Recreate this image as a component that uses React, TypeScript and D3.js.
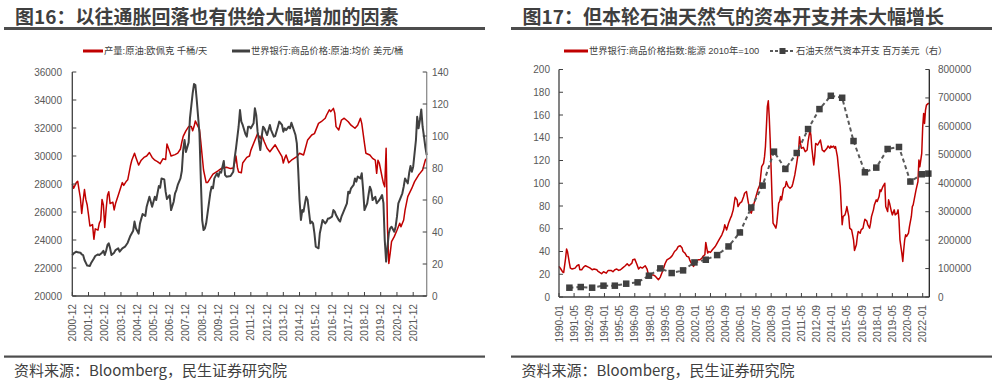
import React from 'react';
import * as d3 from 'd3';

const W = 996;
const H = 383;
const NUM_FONT = '"Liberation Sans", "Noto Sans CJK SC", sans-serif';
const CJK_FONT = '"Noto Sans CJK SC", sans-serif';
const TEXT = '#404040';
const TICK_TEXT = '#595959';
const RED = '#C00000';
const DARK = '#404040';
const LEGEND_SIZE = 9.3;

// ---------- Figure 16 ----------
const leftTitle = '图16：以往通胀回落也有供给大幅增加的因素';
const leftLegend = ['产量:原油:欧佩克 千桶/天', '世界银行:商品价格:原油:均价 美元/桶'];
const leftXTicks = ['2000-12', '2001-12', '2002-12', '2003-12', '2004-12', '2005-12', '2006-12', '2007-12', '2008-12', '2009-12', '2010-12', '2011-12', '2012-12', '2013-12', '2014-12', '2015-12', '2016-12', '2017-12', '2018-12', '2019-12', '2020-12', '2021-12'];
const leftYTicks = [20000, 22000, 24000, 26000, 28000, 30000, 32000, 34000, 36000];
const leftY2Ticks = [0, 20, 40, 60, 80, 100, 120, 140];

// OPEC crude production, thousand barrels/day (left axis)
const opecProduction: [string, number][] = [
  ['2000-12', 28000], ['2001-01', 27700], ['2001-03', 28100], ['2001-04', 28200], ['2001-05', 27600], ['2001-06', 27000],
  ['2001-07', 25900], ['2001-08', 26800], ['2001-09', 27600], ['2001-10', 26900], ['2001-11', 26500], ['2001-12', 25800],
  ['2002-01', 25000], ['2002-03', 25100], ['2002-04', 24050], ['2002-05', 24800], ['2002-07', 24700], ['2002-08', 25200],
  ['2002-09', 25400], ['2002-10', 26900], ['2002-11', 26500], ['2002-12', 24900], ['2003-01', 26200], ['2003-02', 27200],
  ['2003-03', 27450], ['2003-04', 26600], ['2003-06', 26700], ['2003-07', 26150], ['2003-08', 26600], ['2003-10', 27200],
  ['2003-12', 27800], ['2004-01', 28100], ['2004-02', 27900], ['2004-04', 28200], ['2004-05', 28300], ['2004-07', 29300],
  ['2004-08', 29700], ['2004-10', 30200], ['2004-11', 29900], ['2005-01', 29350], ['2005-03', 29700], ['2005-05', 29900],
  ['2005-07', 30000], ['2005-09', 30250], ['2005-11', 29900], ['2006-01', 29700], ['2006-03', 29600], ['2006-05', 29450],
  ['2006-07', 29800], ['2006-09', 29750], ['2006-10', 30850], ['2006-12', 30300], ['2007-01', 30000], ['2007-04', 30100],
  ['2007-06', 30200], ['2007-08', 30500], ['2007-09', 31000], ['2007-10', 31400], ['2007-12', 31800], ['2008-02', 32100],
  ['2008-04', 32100], ['2008-05', 31800], ['2008-06', 32100], ['2008-07', 32500], ['2008-08', 32300], ['2008-10', 31900],
  ['2008-11', 31000], ['2008-12', 30000], ['2009-01', 29000], ['2009-03', 28100], ['2009-04', 28100], ['2009-06', 28400],
  ['2009-08', 28700], ['2009-12', 28950], ['2010-02', 29100], ['2010-06', 29200], ['2010-09', 29100], ['2010-11', 29150],
  ['2010-12', 29500], ['2011-01', 30000], ['2011-02', 29200], ['2011-03', 28850], ['2011-05', 28800], ['2011-06', 29500],
  ['2011-09', 29900], ['2011-11', 30000], ['2011-12', 30400], ['2012-05', 31600], ['2012-07', 31250], ['2012-08', 31500],
  ['2012-10', 31000], ['2012-12', 30550], ['2013-02', 30300], ['2013-04', 30550], ['2013-06', 30800], ['2013-08', 30450],
  ['2013-11', 29950], ['2013-12', 29500], ['2014-01', 29830], ['2014-02', 30070], ['2014-04', 29520], ['2014-06', 29700],
  ['2014-10', 29950], ['2014-12', 30200], ['2015-03', 30070], ['2015-04', 30430], ['2015-06', 31150], ['2015-09', 31500],
  ['2015-11', 31600], ['2016-02', 32330], ['2016-04', 32450], ['2016-07', 32700], ['2016-08', 32930], ['2016-10', 33300],
  ['2016-11', 33170], ['2017-01', 33400], ['2017-02', 33050], ['2017-03', 32100], ['2017-05', 31860], ['2017-07', 32570],
  ['2017-09', 32700], ['2017-12', 32450], ['2018-02', 32200], ['2018-05', 31980], ['2018-07', 32200], ['2018-09', 32700],
  ['2018-10', 32330], ['2018-12', 30900], ['2019-01', 30200], ['2019-04', 30070], ['2019-06', 29830], ['2019-08', 29700],
  ['2019-09', 28760], ['2019-10', 29700], ['2019-11', 29480], ['2019-12', 29000], ['2020-01', 28500], ['2020-02', 28050],
  ['2020-03', 27800], ['2020-04', 30550], ['2020-05', 24950], ['2020-06', 22330], ['2020-07', 23050], ['2020-08', 23880],
  ['2020-10', 24240], ['2020-12', 24700], ['2021-02', 25200], ['2021-03', 24950], ['2021-05', 25430], ['2021-06', 26140],
  ['2021-08', 27100], ['2021-11', 27700], ['2022-01', 28170], ['2022-04', 28640], ['2022-05', 28760], ['2022-07', 29000],
  ['2022-09', 29710], ['2022-10', 29830],
];

// World Bank crude oil average price, USD/bbl (right axis)
const oilPrice: [string, number][] = [
  ['2000-12', 25.6], ['2001-01', 26.7], ['2001-03', 27.7], ['2001-04', 27.3], ['2001-06', 27.1], ['2001-07', 26],
  ['2001-08', 25.6], ['2001-09', 22.5], ['2001-11', 19], ['2002-01', 18.8], ['2002-02', 20.8], ['2002-04', 23.5],
  ['2002-05', 25], ['2002-07', 26], ['2002-08', 25.6], ['2002-10', 27.1], ['2002-11', 28.3], ['2002-12', 25.6],
  ['2003-01', 28.3], ['2003-02', 31.9], ['2003-03', 32.9], ['2003-04', 29.8], ['2003-05', 25.6], ['2003-07', 27.1],
  ['2003-08', 28.7], ['2003-10', 29.8], ['2003-11', 27.7], ['2004-01', 29.8], ['2004-03', 30.8], ['2004-05', 33.3],
  ['2004-07', 37.7], ['2004-09', 40.8], ['2004-10', 46.5], ['2004-11', 42.3], ['2005-01', 39], ['2005-02', 45.4],
  ['2005-04', 51.2], ['2005-06', 50], ['2005-07', 55.8], ['2005-09', 62], ['2005-10', 59], ['2005-11', 55.8],
  ['2006-01', 62], ['2006-02', 60], ['2006-04', 68.7], ['2006-05', 67.7], ['2006-06', 73.5], ['2006-08', 72.9],
  ['2006-09', 65.2], ['2006-10', 60.6], ['2006-12', 63], ['2007-01', 53.7], ['2007-03', 58.9], ['2007-04', 64.2],
  ['2007-05', 66.2], ['2007-06', 69.4], ['2007-08', 73.5], ['2007-09', 78.3], ['2007-10', 91.2], ['2007-11', 97.5],
  ['2007-12', 90], ['2008-02', 96], ['2008-03', 111], ['2008-05', 126.6], ['2008-06', 132.5], ['2008-07', 131.9],
  ['2008-08', 122.5], ['2008-10', 101.7], ['2008-11', 72.5], ['2008-12', 47.5], ['2009-01', 41.2], ['2009-02', 42.3],
  ['2009-03', 45.4], ['2009-04', 51.7], ['2009-06', 64.2], ['2009-07', 68.3], ['2009-08', 67.3], ['2009-09', 73.5],
  ['2009-11', 76.7], ['2009-12', 74.6], ['2010-01', 77.5], ['2010-02', 77.1], ['2010-04', 84.4], ['2010-05', 75.6],
  ['2010-06', 74.6], ['2010-09', 75], ['2010-11', 77.7], ['2010-12', 86], ['2011-01', 92.3], ['2011-03', 105.8],
  ['2011-04', 116.2], ['2011-05', 109], ['2011-06', 106.9], ['2011-08', 101.2], ['2011-09', 99.6], ['2011-10', 105.8],
  ['2011-11', 105.8], ['2011-12', 104.8], ['2012-02', 107.9], ['2012-03', 117.3], ['2012-04', 113], ['2012-05', 102.7],
  ['2012-07', 91.2], ['2012-08', 99.6], ['2012-09', 105.8], ['2012-10', 104.8], ['2012-12', 100.6], ['2013-01', 103.7],
  ['2013-02', 106.9], ['2013-03', 103.7], ['2013-05', 99.6], ['2013-06', 100], ['2013-08', 105.8], ['2013-09', 109],
  ['2013-11', 106.9], ['2013-12', 102.7], ['2014-01', 104.8], ['2014-02', 103.7], ['2014-04', 105.8], ['2014-05', 104.8],
  ['2014-06', 108.3], ['2014-07', 105.8], ['2014-09', 100.6], ['2014-10', 95.4], ['2014-11', 78.7], ['2014-12', 60],
  ['2015-01', 47.5], ['2015-02', 53.7], ['2015-03', 52.7], ['2015-04', 57.9], ['2015-05', 62], ['2015-06', 60],
  ['2015-08', 45.4], ['2015-09', 46.5], ['2015-10', 45.4], ['2015-11', 39.2], ['2015-12', 30.8], ['2016-02', 29.8],
  ['2016-03', 39.2], ['2016-04', 43.3], ['2016-05', 47.5], ['2016-07', 45.4], ['2016-08', 46.5], ['2016-09', 48.5],
  ['2016-10', 48.5], ['2016-12', 49.6], ['2017-01', 53.7], ['2017-02', 52.7], ['2017-03', 50.6], ['2017-05', 47.5],
  ['2017-06', 46.5], ['2017-07', 49.6], ['2017-08', 51.7], ['2017-11', 57.9], ['2017-12', 65.2], ['2018-01', 64.2],
  ['2018-02', 67.3], ['2018-04', 69.4], ['2018-05', 73.5], ['2018-06', 71.5], ['2018-07', 74.6], ['2018-09', 73.5],
  ['2018-10', 76.7], ['2018-11', 66.2], ['2018-12', 53.7], ['2019-02', 57.9], ['2019-03', 63.1], ['2019-04', 68.3],
  ['2019-05', 66.2], ['2019-06', 60], ['2019-08', 62], ['2019-09', 57.9], ['2019-10', 59], ['2019-11', 60],
  ['2020-01', 63.1], ['2020-02', 58], ['2020-03', 35], ['2020-04', 21.5], ['2020-05', 30.8], ['2020-06', 39.2],
  ['2020-07', 42.3], ['2020-08', 43.3], ['2020-10', 40.2], ['2020-11', 43.3], ['2020-12', 49.6], ['2021-01', 57.9],
  ['2021-03', 62], ['2021-04', 64.2], ['2021-05', 68.3], ['2021-06', 73.5], ['2021-08', 70.4], ['2021-09', 76.7],
  ['2021-10', 81.2], ['2021-11', 77.7], ['2021-12', 80.8], ['2022-02', 97.5], ['2022-03', 112], ['2022-04', 104.8],
  ['2022-05', 110], ['2022-06', 116.6], ['2022-07', 105.8], ['2022-08', 99.6], ['2022-09', 92.9], ['2022-10', 88],
];

// ---------- Figure 17 ----------
const rightTitle = '图17：但本轮石油天然气的资本开支并未大幅增长';
const rightLegend = ['世界银行:商品价格指数:能源 2010年=100', '石油天然气资本开支 百万美元（右）'];
const rightXTicks = ['1990-01', '1991-05', '1992-09', '1994-01', '1995-05', '1996-09', '1998-01', '1999-05', '2000-09', '2002-01', '2003-05', '2004-09', '2006-01', '2007-05', '2008-09', '2010-01', '2011-05', '2012-09', '2014-01', '2015-05', '2016-09', '2018-01', '2019-05', '2020-09', '2022-01'];
const rightYTicks = [0, 20, 40, 60, 80, 100, 120, 140, 160, 180, 200];
const rightY2Ticks = [0, 100000, 200000, 300000, 400000, 500000, 600000, 700000, 800000];

// World Bank energy price index, 2010 = 100 (left axis)
const energyIndex: [string, number][] = [
  ['1990-01', 26.9], ['1990-03', 24.6], ['1990-05', 21.9], ['1990-06', 21.6], ['1990-08', 34.2], ['1990-09', 42.1],
  ['1990-10', 40], ['1990-12', 29.8], ['1991-01', 25.4], ['1991-03', 24.6], ['1991-06', 25.4], ['1991-08', 27.5],
  ['1991-10', 28.4], ['1991-11', 24], ['1992-01', 24], ['1992-03', 26.3], ['1992-05', 27.5], ['1992-08', 26.3],
  ['1992-10', 25.4], ['1992-12', 24], ['1993-02', 24.6], ['1993-05', 24], ['1993-06', 22.8], ['1993-08', 21.6],
  ['1993-10', 20.5], ['1993-12', 22.2], ['1994-03', 21], ['1994-05', 23.4], ['1994-08', 23.4], ['1994-10', 22.2],
  ['1994-12', 24], ['1995-02', 24.6], ['1995-04', 23.4], ['1995-06', 24], ['1995-08', 25.4], ['1995-11', 27.5],
  ['1996-01', 29.2], ['1996-03', 27.5], ['1996-06', 29.8], ['1996-07', 32.7], ['1996-09', 33.3], ['1996-11', 29.2],
  ['1997-01', 24.6], ['1997-03', 26.3], ['1997-05', 25.4], ['1997-08', 27.5], ['1997-10', 24.6], ['1997-11', 21],
  ['1998-02', 19.3], ['1998-05', 19.3], ['1998-07', 18.1], ['1998-10', 15.2], ['1998-12', 17.5], ['1999-03', 24],
  ['1999-05', 29.2], ['1999-07', 32.7], ['1999-10', 34.2], ['1999-12', 35.7], ['2000-01', 37.1], ['2000-03', 40],
  ['2000-05', 41.5], ['2000-07', 44.4], ['2000-09', 45], ['2000-11', 43], ['2000-12', 40], ['2001-02', 38.6],
  ['2001-04', 35.7], ['2001-06', 35.1], ['2001-07', 32.7], ['2001-09', 29.2], ['2001-11', 26.9], ['2002-01', 29.8],
  ['2002-02', 31.3], ['2002-04', 32.7], ['2002-06', 32.7], ['2002-08', 34.2], ['2002-09', 35.7], ['2002-11', 37.1],
  ['2002-12', 48], ['2003-02', 38.6], ['2003-03', 40], ['2003-05', 39.2], ['2003-07', 41.5], ['2003-10', 44.4],
  ['2003-11', 45.9], ['2004-01', 48.8], ['2004-03', 51.8], ['2004-05', 54.7], ['2004-07', 59], ['2004-08', 63.5],
  ['2004-10', 59], ['2004-12', 64.9], ['2005-02', 69.3], ['2005-03', 70.8], ['2005-05', 76.6], ['2005-07', 87.7],
  ['2005-09', 85.4], ['2005-10', 79.5], ['2005-12', 82.5], ['2006-02', 83.9], ['2006-04', 88.3], ['2006-05', 91.2],
  ['2006-07', 92.7], ['2006-09', 82.5], ['2006-10', 79.5], ['2006-11', 75.1], ['2006-12', 73.7], ['2007-02', 79.5],
  ['2007-04', 85.4], ['2007-06', 91.2], ['2007-07', 94.2], ['2007-09', 98.5], ['2007-11', 114.6], ['2008-01', 117.5],
  ['2008-02', 123.4], ['2008-03', 132.2], ['2008-04', 149.7], ['2008-05', 167.3], ['2008-06', 172.5], ['2008-07', 158.5],
  ['2008-08', 138], ['2008-09', 111.7], ['2008-10', 85.4], ['2008-11', 64.9], ['2009-01', 62], ['2009-02', 60.5],
  ['2009-03', 64.9], ['2009-05', 82.5], ['2009-06', 84], ['2009-07', 88.3], ['2009-08', 85.4], ['2009-10', 95.6],
  ['2009-12', 97.1], ['2010-01', 101.5], ['2010-03', 97.1], ['2010-05', 95.6], ['2010-07', 97.1], ['2010-08', 100],
  ['2010-10', 107.3], ['2010-12', 117.5], ['2011-02', 129.2], ['2011-03', 140.9], ['2011-04', 135], ['2011-05', 130.7],
  ['2011-07', 131.6], ['2011-09', 127.8], ['2011-11', 129.2], ['2011-12', 136.5], ['2012-02', 146.8], ['2012-03', 142.4],
  ['2012-04', 130.7], ['2012-06', 116.1], ['2012-07', 123.4], ['2012-08', 135], ['2012-10', 133.6], ['2012-11', 135],
  ['2013-01', 138], ['2013-02', 133.6], ['2013-03', 129.2], ['2013-05', 127.8], ['2013-06', 128.7], ['2013-08', 130.7],
  ['2013-09', 132.7], ['2013-11', 130.7], ['2013-12', 132.7], ['2014-01', 131.6], ['2014-03', 132.7], ['2014-04', 130.7],
  ['2014-05', 132.2], ['2014-07', 123.4], ['2014-08', 114.6], ['2014-10', 97.1], ['2014-11', 79.5], ['2014-12', 63.5],
  ['2015-01', 70.8], ['2015-03', 72.2], ['2015-04', 75.1], ['2015-05', 79.5], ['2015-07', 70.8], ['2015-08', 60.5],
  ['2015-10', 59], ['2015-12', 50.3], ['2016-01', 40.9], ['2016-03', 45.9], ['2016-04', 53.2], ['2016-05', 57.6],
  ['2016-07', 56.1], ['2016-08', 59], ['2016-10', 60.5], ['2016-11', 64.9], ['2016-12', 68.4], ['2017-02', 66.7],
  ['2017-03', 63.7], ['2017-05', 60.5], ['2017-06', 64.9], ['2017-07', 70.8], ['2017-09', 76.6], ['2017-10', 81],
  ['2017-12', 85.4], ['2018-01', 83.9], ['2018-03', 88.3], ['2018-04', 94.2], ['2018-05', 92.7], ['2018-07', 97.1],
  ['2018-08', 98.5], ['2018-09', 100], ['2018-10', 79.5], ['2018-12', 75.1], ['2019-01', 85.4], ['2019-02', 82.5],
  ['2019-04', 75.1], ['2019-05', 72.2], ['2019-07', 76.6], ['2019-08', 72.2], ['2019-10', 73.7], ['2019-11', 76.6],
  ['2019-12', 67.8], ['2020-01', 50.3], ['2020-03', 38.6], ['2020-04', 31.3], ['2020-05', 41.5], ['2020-06', 50.3],
  ['2020-07', 54.7], ['2020-08', 53.2], ['2020-10', 56.1], ['2020-11', 61.9], ['2021-01', 70.8], ['2021-02', 79.5],
  ['2021-03', 81], ['2021-05', 89.8], ['2021-06', 94.2], ['2021-08', 101.5], ['2021-09', 120.5], ['2021-10', 114.6],
  ['2021-12', 126.3], ['2022-01', 149.7], ['2022-02', 161.4], ['2022-03', 152.6], ['2022-04', 164.3], ['2022-05', 168.7],
  ['2022-07', 170.2], ['2022-08', 170.2],
];

// Oil & gas capital expenditure, USD million (right axis), annual
const capexDates = ['1990-12', '1991-12', '1992-12', '1993-12', '1994-12', '1995-12', '1996-12', '1997-12', '1998-12', '1999-12', '2000-12', '2001-12', '2002-12', '2003-12', '2004-12', '2005-12', '2006-12', '2007-12', '2008-12', '2009-12', '2010-12', '2011-12', '2012-12', '2013-12', '2014-12', '2015-12', '2016-12', '2017-12', '2018-12', '2019-12', '2020-12', '2021-12', '2022-07'];
const capexValues = [32700, 35100, 32700, 39800, 39800, 46800, 51500, 74900, 100600, 84200, 93600, 121600, 131000, 147400, 177800, 226900, 314600, 391800, 511100, 450300, 506400, 590600, 660800, 707600, 700600, 548500, 438600, 455000, 520500, 527500, 405900, 431600, 433900];

const source = '资料来源：Bloomberg，民生证券研究院';

const pm = (s: string) => {
  const [y, m] = s.split('-').map(Number);
  return new Date(y, m - 1, 1);
};

function Header({ x0, x1, tx, title }: { x0: number; x1: number; tx: number; title: string }) {
  return (
    <g>
      <text x={tx} y={23.5} fontFamily={CJK_FONT} fontWeight={700} fontSize={19} fill="#3f3f3f">{title}</text>
      <rect x={x0} y={27} width={x1 - x0} height={3} fill="#4d4d4d" />
      <rect x={x0} y={355.5} width={x1 - x0} height={2.2} fill="#4d4d4d" />
      <text x={tx - 1} y={376} fontFamily={CJK_FONT} fontSize={15} fill={TEXT}>{source}</text>
    </g>
  );
}

function XAxis({ x, ticks, y0, x0, x1 }: { x: (d: Date) => number; ticks: string[]; y0: number; x0: number; x1: number }) {
  return (
    <g>
      <line x1={x0} x2={x1} y1={y0} y2={y0} stroke={DARK} strokeWidth={1.3} />
      {ticks.map((t) => {
        const px = x(pm(t));
        return (
          <g key={t}>
            <line x1={px} x2={px} y1={y0} y2={y0 - 4} stroke={DARK} strokeWidth={1} />
            <text
              transform={`translate(${px},${y0 + 8}) rotate(-90)`}
              textAnchor="end"
              dy="0.35em"
              fontFamily={NUM_FONT}
              fontSize={10.2}
              fill={TICK_TEXT}
            >
              {t}
            </text>
          </g>
        );
      })}
    </g>
  );
}

function YAxis({ y, ticks, ax, side, labelX, stroke }: { y: any; ticks: number[]; ax: number; side: 'left' | 'right'; labelX: number; stroke: string }) {
  const dir = side === 'left' ? 1 : -1;
  const r = y.range();
  return (
    <g>
      <line x1={ax} x2={ax} y1={r[0]} y2={r[1]} stroke={stroke} strokeWidth={1.3} />
      {ticks.map((t) => (
        <g key={t}>
          <line x1={ax} x2={ax + dir * 4} y1={y(t)} y2={y(t)} stroke={DARK} strokeWidth={1} />
          <text
            x={labelX}
            y={y(t)}
            dy="0.35em"
            textAnchor={side === 'left' ? 'end' : 'start'}
            fontFamily={NUM_FONT}
            fontSize={10}
            fill={TICK_TEXT}
          >
            {String(t)}
          </text>
        </g>
      ))}
    </g>
  );
}

function LeftChart() {
  const x = d3.scaleTime().domain([pm('2000-12'), pm('2022-10')]).range([72.3, 426.7]);
  const yL = d3.scaleLinear().domain([20000, 36000]).range([296, 72]);
  const yR = d3.scaleLinear().domain([0, 140]).range([296, 72]);
  const redLine = d3.line<[string, number]>().x((d) => x(pm(d[0]))).y((d) => yL(d[1]));
  const grayLine = d3.line<[string, number]>().x((d) => x(pm(d[0]))).y((d) => yR(d[1]));
  return (
    <g>
      <Header x0={4} x1={485} tx={15} title={leftTitle} />
      <line x1={83} x2={103} y1={51} y2={51} stroke={RED} strokeWidth={3} />
      <text x={104} y={54.3} fontFamily={NUM_FONT} fontSize={LEGEND_SIZE} fill={TEXT}>{leftLegend[0]}</text>
      <line x1={232} x2={250} y1={51} y2={51} stroke={DARK} strokeWidth={3} />
      <text x={251} y={54.3} fontFamily={NUM_FONT} fontSize={LEGEND_SIZE} fill={TEXT}>{leftLegend[1]}</text>
      <path d={redLine(opecProduction) || ''} fill="none" stroke={RED} strokeWidth={1.5} strokeLinejoin="round" />
      <path d={grayLine(oilPrice) || ''} fill="none" stroke={DARK} strokeWidth={2} strokeLinejoin="round" />
      <YAxis y={yL} ticks={leftYTicks} ax={72.3} side="left" labelX={62} stroke={DARK} />
      <YAxis y={yR} ticks={leftY2Ticks} ax={426.7} side="right" labelX={432} stroke="#8c8c8c" />
      <XAxis x={x} ticks={leftXTicks} y0={296} x0={72.3} x1={426.7} />
    </g>
  );
}

function RightChart() {
  const x = d3.scaleTime().domain([pm('1990-01'), pm('2022-08')]).range([559, 929.3]);
  const yL = d3.scaleLinear().domain([0, 200]).range([297, 69.5]);
  const yR = d3.scaleLinear().domain([0, 800000]).range([297, 69.5]);
  const redLine = d3.line<[string, number]>().x((d) => x(pm(d[0]))).y((d) => yL(d[1]));
  const capex = capexDates.map((d, i) => [d, capexValues[i]] as [string, number]);
  const capexLine = d3.line<[string, number]>().x((d) => x(pm(d[0]))).y((d) => yR(d[1]));
  const sq = 6.5;
  return (
    <g>
      <Header x0={511} x1={992} tx={522.5} title={rightTitle} />
      <line x1={564} x2={588} y1={51} y2={51} stroke={RED} strokeWidth={3} />
      <text x={589} y={54.3} fontFamily={NUM_FONT} fontSize={LEGEND_SIZE} fill={TEXT}>{rightLegend[0]}</text>
      <line x1={770} x2={795} y1={51} y2={51} stroke="#595959" strokeWidth={2} strokeDasharray="3,2" />
      <rect x={782.5 - 3} y={48} width={6} height={6} fill={DARK} />
      <text x={796} y={54.3} fontFamily={NUM_FONT} fontSize={LEGEND_SIZE} fill={TEXT}>{rightLegend[1]}</text>
      <path d={redLine(energyIndex) || ''} fill="none" stroke={RED} strokeWidth={1.5} strokeLinejoin="round" />
      <path d={capexLine(capex) || ''} fill="none" stroke="#595959" strokeWidth={2} strokeDasharray="4,3" />
      {capex.map((d) => (
        <rect key={d[0]} x={x(pm(d[0])) - sq / 2} y={yR(d[1]) - sq / 2} width={sq} height={sq} fill={DARK} />
      ))}
      <YAxis y={yL} ticks={rightYTicks} ax={559} side="left" labelX={550} stroke={DARK} />
      <YAxis y={yR} ticks={rightY2Ticks} ax={929.3} side="right" labelX={938} stroke="#222" />
      <XAxis x={x} ticks={rightXTicks} y0={297} x0={559} x1={929.3} />
    </g>
  );
}

export default function App() {
  return (
    <svg width={W} height={H} viewBox={`0 0 ${W} ${H}`} style={{ position: 'absolute', left: 0, top: 0, background: '#fff' }}>
      <rect width={W} height={H} fill="#fff" />
      <LeftChart />
      <RightChart />
    </svg>
  );
}
